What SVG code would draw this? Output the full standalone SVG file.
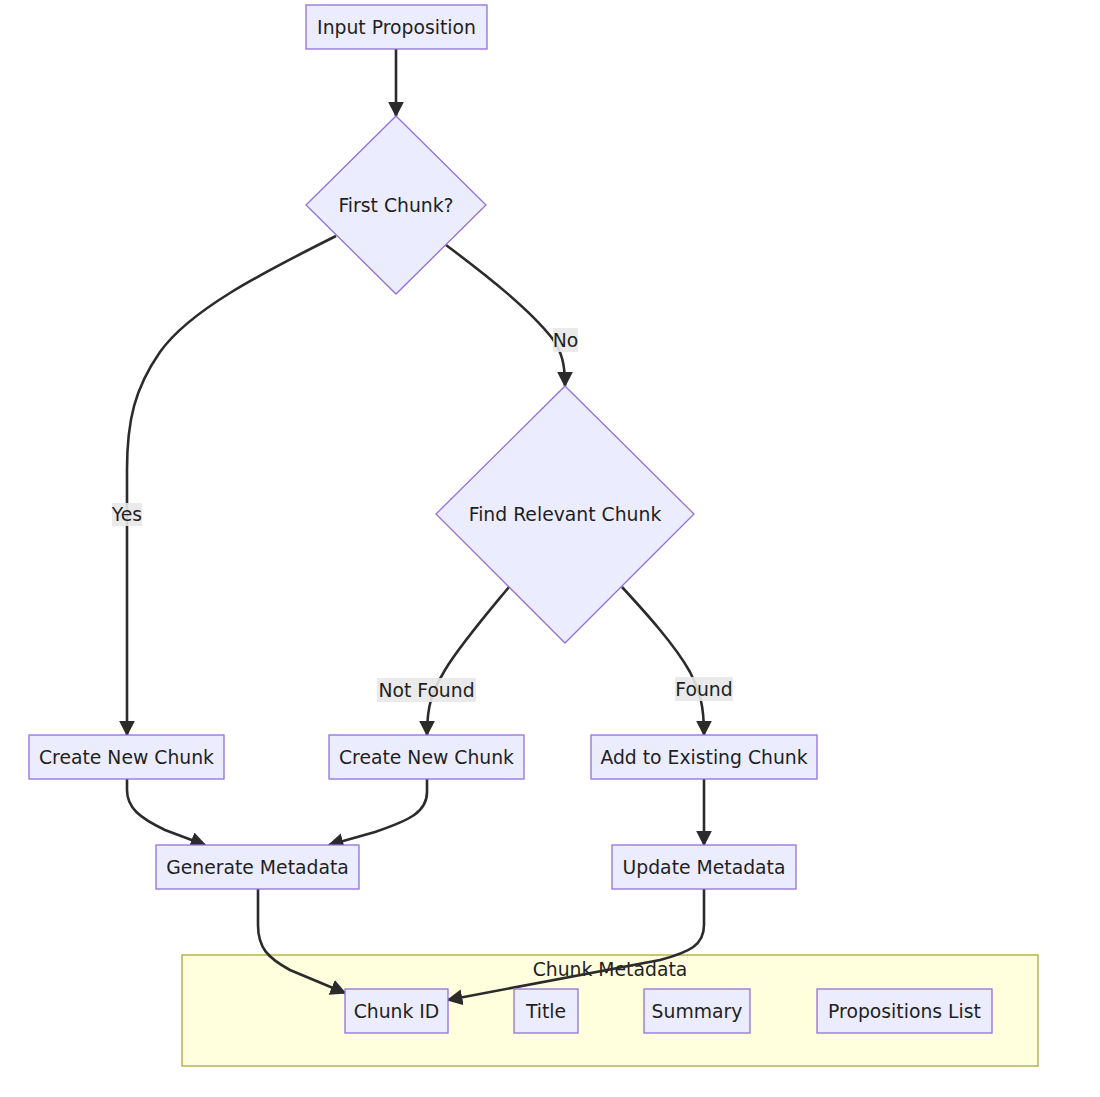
<svg xmlns="http://www.w3.org/2000/svg" width="1100" height="1097" viewBox="0 0 1100 1097">
<style>
.node rect, .node polygon { fill: #ECECFF; stroke: #9370DB; stroke-width: 1.3; }
.cluster rect { fill: #ffffde; stroke: #aaaa33; stroke-width: 1.3; }
text { font-family: "DejaVu Sans", "Noto Sans", sans-serif; font-size: 18.8px; fill: #1f1f1f; text-anchor: middle; }
.edge { fill: none; stroke: #2b2b2b; stroke-width: 2.6; marker-end: url(#arrow); }
.lbl rect { fill: #e8e8e8; opacity: 0.9; }
</style>
<defs>
<marker id="arrow" viewBox="0 0 10 10" refX="9" refY="5" markerUnits="userSpaceOnUse" markerWidth="16" markerHeight="16" orient="auto">
<path d="M0,0 L10,5 L0,10 z" fill="#2b2b2b"/>
</marker>
</defs>
<rect width="1100" height="1097" fill="#ffffff"/>
<g id="cluster-chunk-metadata" class="cluster">
<rect x="182" y="955" width="856" height="111"/>
<text x="610" y="976">Chunk Metadata</text>
</g>
<g id="connectors">
<path class="edge" d="M396,49 L396,116"/>
<path class="edge" d="M336,236 C260,274 190,310 160,352 C135,388 127,420 127,470 L127,735"/>
<path class="edge" d="M446,245 C490,278 530,310 552,338 C562,352 565,364 565,386"/>
<path class="edge" d="M509,587 C490,610 460,645 445,670 C432,692 427,705 427,735"/>
<path class="edge" d="M622,587 C645,612 675,645 690,672 C700,692 704,705 704,735"/>
<path class="edge" d="M127,779 L127,790 C127,808 140,818 165,830 L205,845"/>
<path class="edge" d="M427,779 L427,792 C427,812 410,820 375,832 L329,845"/>
<path class="edge" d="M704,779 L704,845"/>
<path class="edge" d="M258,889 L258,925 C258,948 268,958 290,970 L345,993"/>
<path class="edge" d="M704,889 L704,925 C704,945 690,952 660,960 L448,1000"/>
</g>
<g id="edge-labels">
<g class="lbl"><rect x="553" y="328" width="25" height="24"/><text x="565.5" y="347">No</text></g>
<g class="lbl"><rect x="112" y="503" width="30" height="23"/><text x="127" y="521">Yes</text></g>
<g class="lbl"><rect x="377" y="678" width="99" height="24"/><text x="426.5" y="697">Not Found</text></g>
<g class="lbl"><rect x="675" y="677" width="58" height="24"/><text x="704" y="696">Found</text></g>
</g>
<g id="node-input" class="node"><rect x="306" y="5" width="181" height="44"/><text x="396.5" y="34">Input Proposition</text></g>
<g id="node-first-chunk" class="node"><polygon points="396,116 486,205 396,294 306,205"/><text x="396" y="212">First Chunk?</text></g>
<g id="node-find-relevant" class="node"><polygon points="565,386 694,514 565,643 436,514"/><text x="565" y="521">Find Relevant Chunk</text></g>
<g id="node-create-1" class="node"><rect x="29" y="735" width="195" height="44"/><text x="126.5" y="764">Create New Chunk</text></g>
<g id="node-create-2" class="node"><rect x="329" y="735" width="195" height="44"/><text x="426.5" y="764">Create New Chunk</text></g>
<g id="node-add-existing" class="node"><rect x="591" y="735" width="226" height="44"/><text x="704" y="764">Add to Existing Chunk</text></g>
<g id="node-generate" class="node"><rect x="156" y="845" width="203" height="44"/><text x="257.5" y="874">Generate Metadata</text></g>
<g id="node-update" class="node"><rect x="612" y="845" width="184" height="44"/><text x="704" y="874">Update Metadata</text></g>
<g id="node-chunk-id" class="node"><rect x="345" y="989" width="103" height="44"/><text x="396.5" y="1018">Chunk ID</text></g>
<g id="node-title" class="node"><rect x="514" y="989" width="64" height="44"/><text x="546" y="1018">Title</text></g>
<g id="node-summary" class="node"><rect x="644" y="989" width="106" height="44"/><text x="697" y="1018">Summary</text></g>
<g id="node-propositions" class="node"><rect x="817" y="989" width="175" height="44"/><text x="904.5" y="1018">Propositions List</text></g>
</svg>
